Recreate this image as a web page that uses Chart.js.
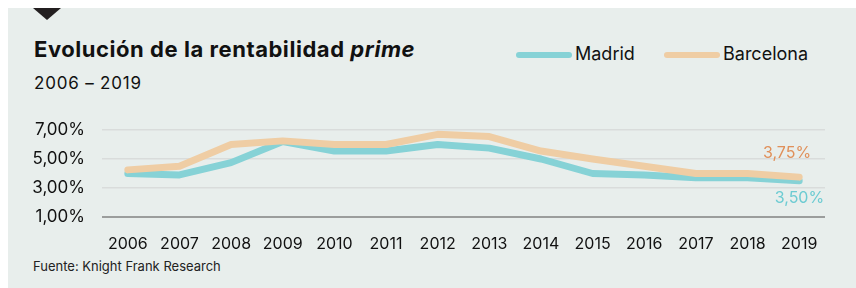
<!DOCTYPE html>
<html>
<head>
<meta charset="utf-8">
<script src="https://cdn.jsdelivr.net/npm/chart.js@4"></script>
<style>
  html, body { margin: 0; padding: 0; background: #fff; }
  body { width: 856px; height: 288px; position: relative; overflow: hidden; font-family: Inter, "Noto Sans", sans-serif; color: #111; }
  #panel { position: absolute; left: 8px; top: 8px; width: 848px; height: 280px; background: #e8eeec; }
  #tri { position: absolute; left: 33px; top: 8px; width: 0; height: 0; border-left: 14px solid transparent; border-right: 14px solid transparent; border-top: 12px solid #231f20; }
  #title { position: absolute; left: 34px; top: 36px; font-size: 22px; font-weight: 700; letter-spacing: 0.55px; white-space: nowrap; }
  #sub { position: absolute; left: 34px; top: 73px; font-size: 17px; letter-spacing: 0.8px; white-space: nowrap; }
  .leg { position: absolute; top: 43px; font-size: 18px; white-space: nowrap; }
  .leg span { display: inline-block; width: 56px; height: 6px; border-radius: 3px; vertical-align: middle; margin-right: 3px; position: relative; top: 0px; }
  #source { position: absolute; left: 33px; top: 258px; font-size: 13px; white-space: nowrap; color: #222; }
  #wrap { position: absolute; left: 0; top: 0; width: 856px; height: 288px; }
</style>
</head>
<body>
<div id="panel"></div>
<div id="tri"></div>
<div id="title">Evolución de la rentabilidad <i>prime</i></div>
<div id="sub">2006 – 2019</div>
<div class="leg" style="left:516px"><span style="background:#86d2d6"></span>Madrid</div>
<div class="leg" style="left:664px"><span style="background:#efcda4"></span>Barcelona</div>
<div id="source">Fuente: Knight Frank Research</div>
<div id="wrap"><canvas id="myChart" width="856" height="288"></canvas></div>
<script>
let years = ['2006', '2007', '2008', '2009', '2010', '2011', '2012', '2013', '2014', '2015', '2016', '2017', '2018', '2019'];
let madrid = [4.0, 3.9, 4.75, 6.2, 5.55, 5.55, 6.0, 5.75, 5.0, 4.0, 3.9, 3.7, 3.7, 3.5];
let barcelona = [4.25, 4.5, 6.0, 6.25, 6.0, 6.0, 6.7, 6.55, 5.55, 5.0, 4.5, 4.0, 4.0, 3.75];
let yTicks = [1, 3, 5, 7];

function fmt(v) {
    return v.toFixed(2).replace('.', ',') + '%';
}

// last value labels at the end of each line
let endLabels = {
    id: 'endLabels',
    afterDatasetsDraw(chart) {
        let ctx = chart.ctx;
        let x = chart.scales.x;
        let y = chart.scales.y;
        let last = years.length - 1;
        ctx.save();
        ctx.font = '16px Inter';
        ctx.textAlign = 'right';
        ctx.textBaseline = 'middle';
        ctx.fillStyle = '#e0905a';
        ctx.fillText(fmt(barcelona[last]), x.getPixelForValue(last) + 12, y.getPixelForValue(barcelona[last]) - 24);
        ctx.fillStyle = '#6ccbd2';
        ctx.fillText(fmt(madrid[last]), x.getPixelForValue(last) + 25, y.getPixelForValue(madrid[last]) + 17);
        ctx.restore();
    }
};

let myChart = document.getElementById('myChart').getContext('2d');
let chart = new Chart(myChart, {
    type: 'line',
    data: {
        labels: years,
        datasets: [
            {
                label: 'Madrid',
                data: madrid,
                borderWidth: 7,
                borderColor: '#86d2d6',
                backgroundColor: 'transparent',
                pointRadius: 0,
                borderCapStyle: 'round',
                borderJoinStyle: 'round',
                order: 2
            },
            {
                label: 'Barcelona',
                data: barcelona,
                borderWidth: 7,
                borderColor: '#efcda4',
                backgroundColor: 'transparent',
                pointRadius: 0,
                borderCapStyle: 'round',
                borderJoinStyle: 'round',
                order: 1
            }
        ]
    },
    options: {
        responsive: false,
        animation: false,
        devicePixelRatio: 1,
        layout: { padding: { left: 0, right: 31, top: 130, bottom: 0 } },
        plugins: {
            legend: { display: false },
            title: { display: false },
            tooltip: { enabled: false }
        },
        scales: {
            x: {
                offset: true,
                grid: { display: false },
                border: { display: false },
                ticks: { color: '#111', font: { family: 'Inter', size: 16 }, padding: 10, maxRotation: 0, autoSkip: false },
                afterFit(scale) { scale.height = 71; }
            },
            y: {
                min: 1,
                max: 7,
                afterBuildTicks(scale) { scale.ticks = yTicks.map(v => ({ value: v })); },
                grid: {
                    drawTicks: false,
                    color: c => c.tick && c.tick.value === 1 ? '#9b9d9c' : '#d9dcdb',
                    lineWidth: c => c.tick && c.tick.value === 1 ? 2 : 1.5
                },
                border: { display: false },
                ticks: { color: '#111', font: { family: 'Inter', size: 17 }, padding: 17, callback: v => fmt(v) },
                afterFit(scale) { scale.width = 102; }
            }
        }
    },
    plugins: [endLabels]
});
</script>
</body>
</html>
